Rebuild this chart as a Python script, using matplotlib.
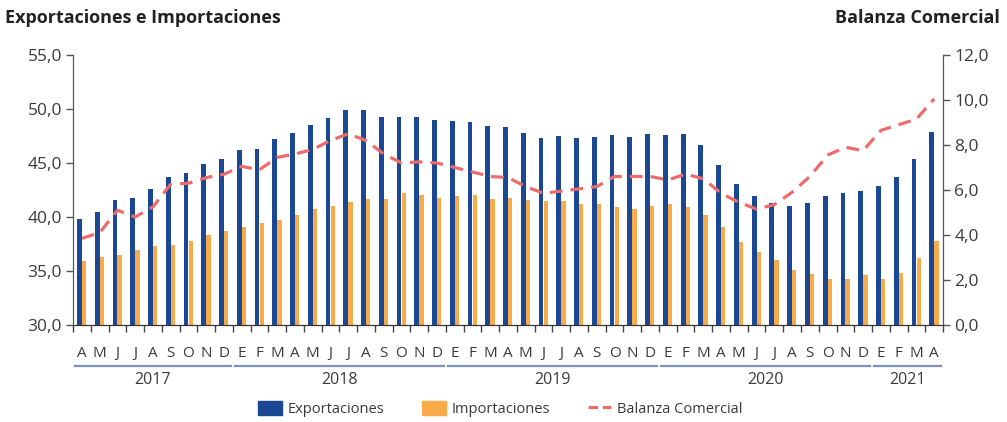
import matplotlib.pyplot as plt
import matplotlib.transforms as mtransforms
from matplotlib.patches import Patch
from matplotlib.lines import Line2D
from matplotlib.ticker import FuncFormatter, FixedLocator

months = ["A", "M", "J", "J", "A", "S", "O", "N", "D",
          "E", "F", "M", "A", "M", "J", "J", "A", "S", "O", "N", "D",
          "E", "F", "M", "A", "M", "J", "J", "A", "S", "O", "N", "D",
          "E", "F", "M", "A", "M", "J", "J", "A", "S", "O", "N", "D",
          "E", "F", "M", "A"]
years = ["2017", "2018", "2019", "2020", "2021"]
year_counts = [9, 12, 12, 12, 4]

exportaciones = [39.8, 40.5, 41.6, 41.8, 42.6, 43.7, 44.1, 44.9, 45.4,
                 46.2, 46.3, 47.2, 47.8, 48.5, 49.2, 49.9, 49.9, 49.3, 49.3, 49.3, 49.0,
                 48.9, 48.8, 48.4, 48.3, 47.8, 47.3, 47.5, 47.3, 47.4, 47.6, 47.4, 47.7,
                 47.6, 47.7, 46.7, 44.8, 43.1, 41.9, 41.3, 41.0, 41.3, 41.9, 42.2, 42.4,
                 42.9, 43.7, 45.4, 47.9]
importaciones = [35.9, 36.3, 36.5, 36.9, 37.3, 37.4, 37.8, 38.3, 38.7,
                 39.1, 39.4, 39.7, 40.2, 40.7, 41.0, 41.4, 41.7, 41.7, 42.2, 42.0, 41.8,
                 41.9, 42.0, 41.7, 41.8, 41.6, 41.5, 41.5, 41.2, 41.2, 40.9, 40.7, 41.0,
                 41.2, 40.9, 40.2, 39.1, 37.7, 36.8, 36.0, 35.1, 34.7, 34.3, 34.3, 34.6,
                 34.3, 34.8, 36.2, 37.8]
balanza = [3.85, 4.1, 5.1, 4.8, 5.25, 6.25, 6.3, 6.55, 6.7,
           7.05, 6.9, 7.45, 7.6, 7.8, 8.2, 8.5, 8.2, 7.6, 7.2, 7.25, 7.2,
           7.0, 6.8, 6.6, 6.55, 6.15, 5.85, 5.95, 6.05, 6.15, 6.6, 6.6, 6.6,
           6.45, 6.7, 6.5, 5.85, 5.45, 5.15, 5.35, 5.9, 6.6, 7.55, 7.9, 7.75,
           8.65, 8.9, 9.15, 10.05]

c_exp = "#1a4894"
c_imp = "#f9ab4a"
c_bal = "#ee6b6b"
c_txt = "#3a3a3a"
c_year = "#7d93bd"

plt.rcParams['font.family'] = ['Open Sans', 'DejaVu Sans']

fig = plt.figure(figsize=(10.07, 4.22), dpi=100)
ax = fig.add_axes([0.0725, 0.2299, 0.864, 0.6398])
ax2 = ax.twinx()

x = list(range(len(months)))
ax.bar([i - 0.14 for i in x], exportaciones, width=0.27, color=c_exp, zorder=2)
ax.bar([i + 0.125 for i in x], importaciones, width=0.24, color=c_imp, zorder=2)
ax2.plot(x, balanza, color=c_bal, lw=2.3, dashes=(4, 2.5), zorder=3)

ax.set_xlim(-0.5, len(months) - 0.5)
ax.set_ylim(30, 55)
ax2.set_ylim(0, 12)
ax.set_yticks([30, 35, 40, 45, 50, 55])
ax2.set_yticks([0, 2, 4, 6, 8, 10, 12])
fmt = FuncFormatter(lambda v, p: f"{v:.1f}".replace('.', ','))
ax.yaxis.set_major_formatter(fmt)
ax2.yaxis.set_major_formatter(fmt)

for a in (ax, ax2):
    a.spines['top'].set_visible(False)
    a.spines['left'].set_color('#555555')
    a.spines['right'].set_color('#555555')
    a.spines['bottom'].set_color('#333333')
    a.tick_params(axis='y', colors='#555555', labelcolor=c_txt, labelsize=12.5,
                  length=5, width=1, pad=3)

ax.set_xticks(x)
ax.set_xticklabels(months)
ax.tick_params(axis='x', which='major', length=0, pad=15, labelsize=11,
               labelcolor=c_txt)
ax.xaxis.set_minor_locator(FixedLocator([i - 0.5 for i in range(len(months) + 1)]))
ax.tick_params(axis='x', which='minor', length=5, color='#444444', width=1)

trans = mtransforms.blended_transform_factory(ax.transData, ax.transAxes)
start = 0
for yr, n in zip(years, year_counts):
    x0 = start - 0.5 + 0.12
    x1 = start + n - 0.5 - 0.12
    ax.plot([x0, x1], [-0.152, -0.152], transform=trans, color=c_year, lw=1.6,
            clip_on=False)
    ax.text((x0 + x1) / 2, -0.205, yr, transform=trans, ha='center', va='center',
            fontsize=11.5, color=c_txt)
    start += n

fig.text(0.005, 0.958, "Exportaciones e Importaciones", fontsize=13,
         fontweight='bold', color='#222222', va='center', ha='left')
fig.text(0.993, 0.958, "Balanza Comercial", fontsize=13, fontweight='bold',
         color='#222222', va='center', ha='right')

handles = [Patch(color=c_exp), Patch(color=c_imp),
           Line2D([0], [0], color=c_bal, lw=2.3, dashes=(3, 1.5))]
labels = ["Exportaciones", "Importaciones", "Balanza Comercial"]
leg = fig.legend(handles, labels, loc='center', bbox_to_anchor=(0.497, 0.03),
                 ncol=3, frameon=False, fontsize=10.5, handlelength=1.6,
                 handleheight=1.1, columnspacing=2.6, handletextpad=0.4)
for t in leg.get_texts():
    t.set_color(c_txt)

fig.savefig("out.png", dpi=100)
